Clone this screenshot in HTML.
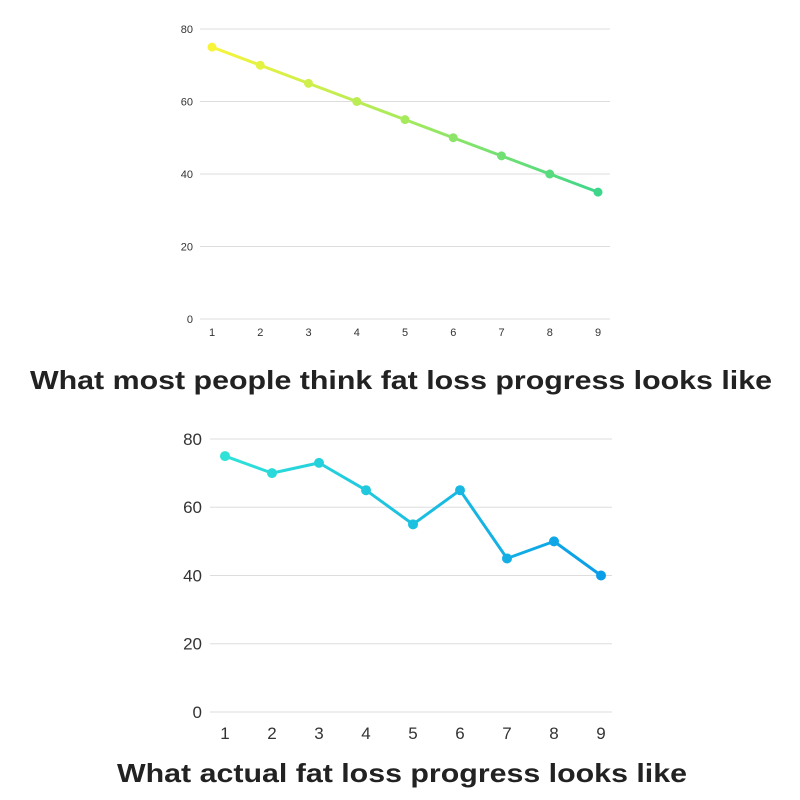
<!DOCTYPE html>
<html><head><meta charset="utf-8"><style>
html,body{margin:0;padding:0;background:#fff;}
svg{display:block;font-family:"Liberation Sans",sans-serif;}
</style></head><body>
<svg id="c" width="800" height="800" viewBox="0 0 800 800" xmlns="http://www.w3.org/2000/svg">
<defs>
<linearGradient id="g1" gradientUnits="userSpaceOnUse" x1="212" y1="0" x2="598" y2="0">
<stop offset="0" stop-color="#f8f43a"/><stop offset="0.5" stop-color="#a6ea5c"/><stop offset="1" stop-color="#3dd68a"/></linearGradient>
<linearGradient id="g2" gradientUnits="userSpaceOnUse" x1="225" y1="0" x2="601" y2="0">
<stop offset="0" stop-color="#2ee2d8"/><stop offset="1" stop-color="#0a9ee8"/></linearGradient>
</defs>
<g id="top"></g>
<g id="bot"></g>
<text x="30" y="389" font-size="26" font-weight="bold" fill="#222" textLength="742" lengthAdjust="spacingAndGlyphs">What most people think fat loss progress looks like</text>
<text x="117" y="782" font-size="26" font-weight="bold" fill="#222" textLength="570" lengthAdjust="spacingAndGlyphs">What actual fat loss progress looks like</text>
</svg>
<script>
const categories = [1,2,3,4,5,6,7,8,9];
const expectedValues = [75,70,65,60,55,50,45,40,35];
const actualValues = [75,70,73,65,55,65,45,50,40];
const yTicks = [0,20,40,60,80];
const NS="http://www.w3.org/2000/svg";
function mk(tag,attrs,parent){const e=document.createElementNS(NS,tag);for(const k in attrs)e.setAttribute(k,attrs[k]);parent.appendChild(e);return e;}
function chart(g,o,vals){
  const xs=i=>o.x0+(i)*(o.x1-o.x0)/(categories.length-1);
  const ys=v=>o.y0-(v/80)*(o.y0-o.y80);
  yTicks.forEach(t=>{
    const l=mk('line',{x1:o.gx0,x2:o.gx1,y1:ys(t),y2:ys(t),stroke:'#ddd','stroke-width':1},g);
    
    
    const tx=mk('text',{x:o.lx,y:ys(t)+o.fs*0.35,'font-size':o.fs,fill:'#333','text-anchor':'end'},g);
    tx.textContent=t;
    
    
  });
  categories.forEach((c,i)=>{
    const tx=mk('text',{x:xs(i),y:o.y0+o.xoff,'font-size':o.fs,fill:'#333','text-anchor':'middle'},g);
    tx.textContent=c;
    
    
  });
  const pts=vals.map((v,i)=>xs(i)+','+ys(v)).join(' ');
  const pl=mk('polyline',{points:pts,fill:'none',stroke:o.grad,'stroke-width':3,'stroke-linejoin':'round'},g);
  
  
  vals.forEach((v,i)=>{
    const c=mk('circle',{cx:xs(i),cy:ys(v),r:o.r,fill:o.grad},g);
    
    
  });
}
chart(document.getElementById('top'),{x0:212,x1:598,y0:319,y80:29,gx0:200,gx1:610,lx:193,fs:11,xoff:17,r:4.5,grad:'url(#g1)'},expectedValues);
chart(document.getElementById('bot'),{x0:225,x1:601,y0:712,y80:439,gx0:210,gx1:612,lx:202,fs:17,xoff:27,r:5,grad:'url(#g2)'},actualValues);
</script>
</body></html>
